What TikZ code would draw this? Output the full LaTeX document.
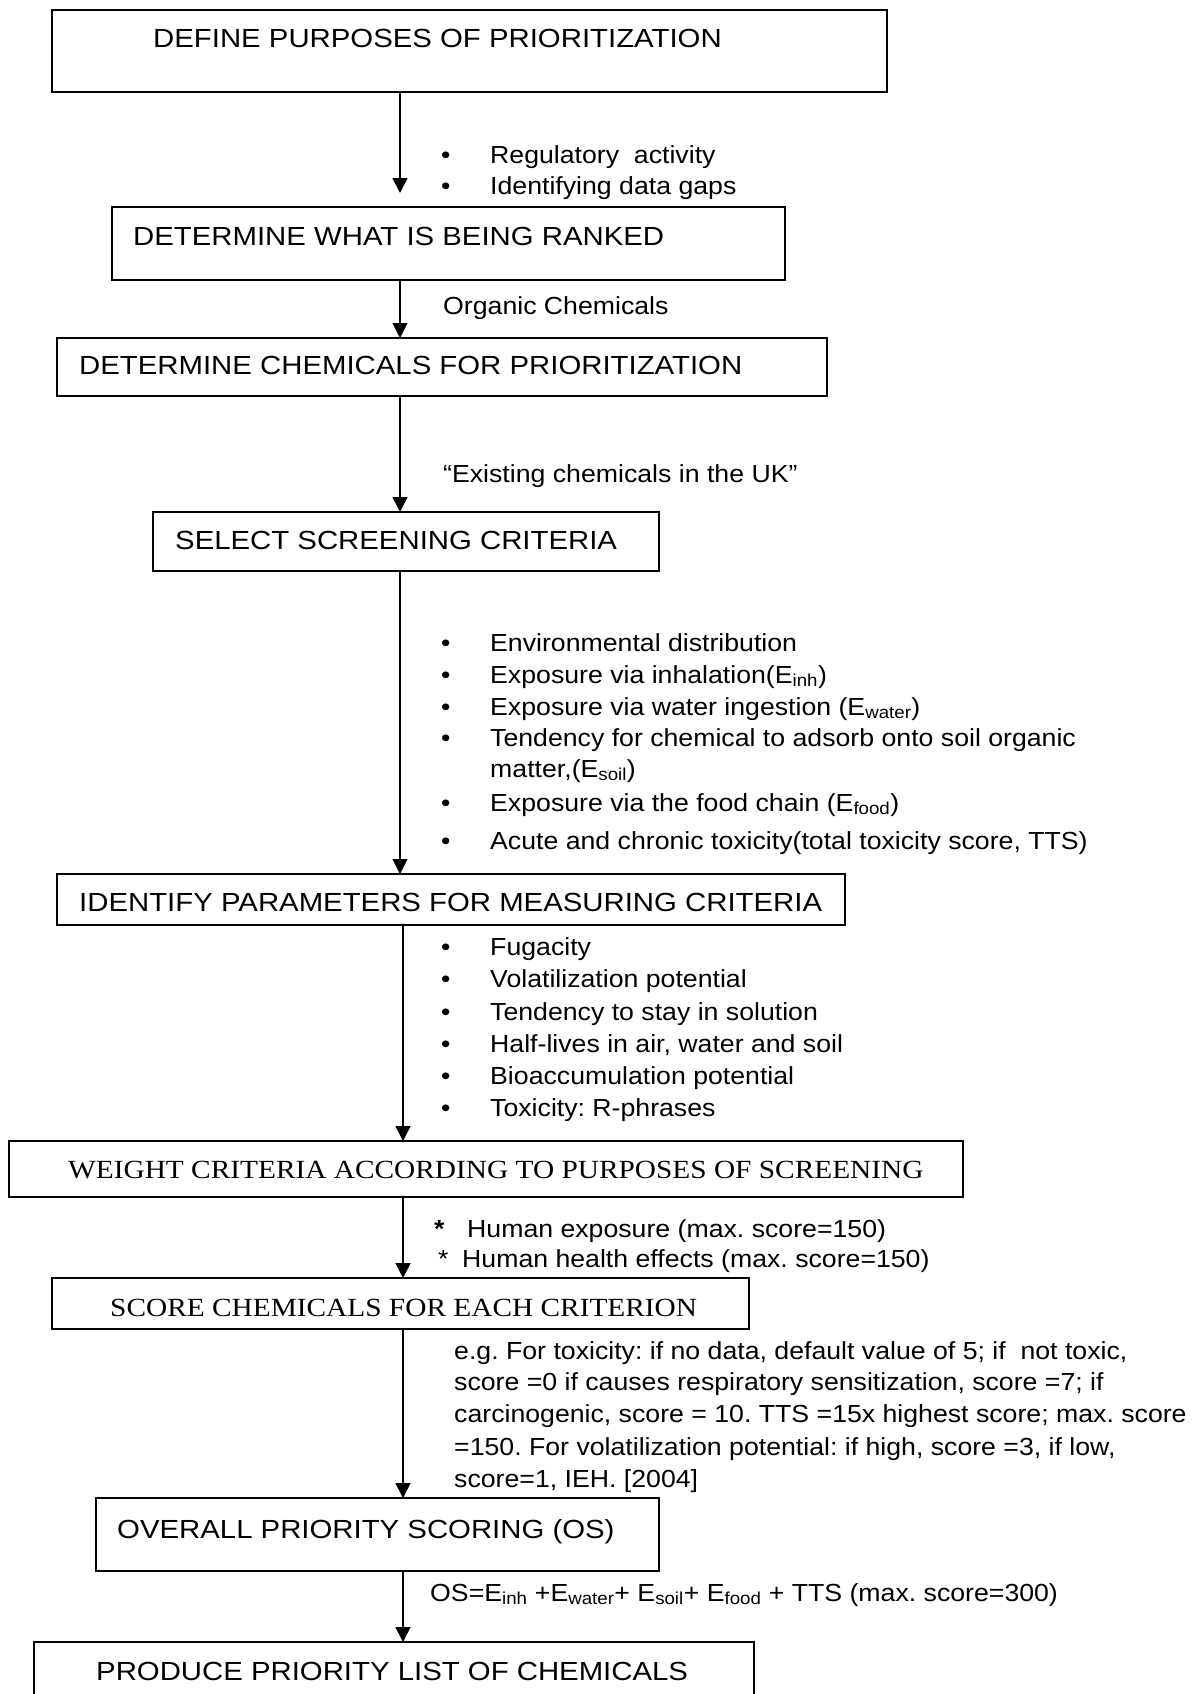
\documentclass[tikz,border=0pt]{standalone}
\usepackage{fontspec}
\setmainfont{Liberation Sans}
\newfontfamily\bodyfont[FakeStretch=1.08]{Liberation Sans}
\newfontfamily\boxsans[FakeStretch=1.12]{Liberation Sans}
\newfontfamily\boxserif[FakeStretch=1.12]{Liberation Serif}
\usetikzlibrary{arrows.meta}
\frenchspacing
\tikzset{
  box/.style={draw, line width=1.8pt, inner sep=0pt, outer sep=0pt, anchor=north west},
  boxtxt/.style={anchor=base west, inner sep=0pt, font=\boxsans\fontsize{26.2}{30}\selectfont},
  boxtxtserif/.style={anchor=base west, inner sep=0pt, font=\boxserif\fontsize{26.2}{30}\selectfont},
  txt/.style={anchor=base west, inner sep=0pt, font=\bodyfont\fontsize{24.7}{30}\selectfont},
  flow/.style={line width=1.6pt, -{Triangle[width=15pt,length=15pt]}}
}
\newcommand{\bitem}[3]{%
  \node[txt] (#1b) at (441,#2) {\textbullet};
  \node[txt] (#1) at (490,#2) {#3};}
\begin{document}
\begin{tikzpicture}[x=1pt,y=-1pt]
\useasboundingbox (0,0) rectangle (1195,1694);
\fill[white] (0,0) rectangle (1195,1694);
\coordinate (ax) at (400,0);
\coordinate (bx) at (403,0);

% boxes
\node[box, minimum width=835pt, minimum height=82pt] (b1) at (52,10) {};
\node[box, minimum width=673pt, minimum height=73pt] (b2) at (112,207) {};
\node[box, minimum width=770pt, minimum height=58pt] (b3) at (57,338) {};
\node[box, minimum width=506pt, minimum height=59pt] (b4) at (153,512) {};
\node[box, minimum width=788pt, minimum height=51pt] (b5) at (57,874) {};
\node[box, minimum width=954pt, minimum height=56pt] (b6) at (9,1141) {};
\node[box, minimum width=697pt, minimum height=51pt] (b7) at (52,1278) {};
\node[box, minimum width=563pt, minimum height=73pt] (b8) at (96,1498) {};
\node[box, minimum width=720pt, minimum height=90pt] (b9) at (34,1642) {};

% box texts
\node[boxtxt] (t1) at (153,47.5) {DEFINE PURPOSES OF PRIORITIZATION};
\node[boxtxt] (t2) at (133,245) {DETERMINE WHAT IS BEING RANKED};
\node[boxtxt] (t3) at (79,374) {DETERMINE CHEMICALS FOR PRIORITIZATION};
\node[boxtxt] (t4) at (175,549) {SELECT SCREENING CRITERIA};
\node[boxtxt] (t5) at (79,911) {IDENTIFY PARAMETERS FOR MEASURING CRITERIA};
\node[boxtxtserif] (t6) at (68,1178) {WEIGHT CRITERIA ACCORDING TO PURPOSES OF SCREENING};
\node[boxtxtserif] (t7) at (110,1316) {SCORE CHEMICALS FOR EACH CRITERION};
\node[boxtxt] (t8) at (117,1538) {OVERALL PRIORITY SCORING (OS)};
\node[boxtxt] (t9) at (96,1680) {PRODUCE PRIORITY LIST OF CHEMICALS};

% connectors
\draw[flow] (b1.south -| ax) -- ([yshift=14pt]b2.north -| ax);
\draw[flow] (b2.south -| ax) -- (b3.north -| ax);
\draw[flow] (b3.south -| ax) -- (b4.north -| ax);
\draw[flow] (b4.south -| ax) -- (b5.north -| ax);
\draw[flow] (b5.south -| bx) -- (b6.north -| bx);
\draw[flow] (b6.south -| bx) -- (b7.north -| bx);
\draw[flow] (b7.south -| bx) -- (b8.north -| bx);
\draw[flow] (b8.south -| bx) -- (b9.north -| bx);

% labels on connectors
\bitem{p1}{163}{Regulatory\ \ activity}
\bitem{p2}{194}{Identifying data gaps}
\node[txt] (r1) at (443,314) {Organic Chemicals};
\node[txt] (c1) at (443,482) {“Existing chemicals in the UK”};

\bitem{s1}{651}{Environmental distribution}
\bitem{s2}{683}{Exposure via inhalation(E\textsubscript{inh})}
\bitem{s3}{715}{Exposure via water ingestion (E\textsubscript{water})}
\bitem{s4}{746}{Tendency for chemical to adsorb onto soil organic}
\node[txt] (s4c) at (490,777) {matter,(E\textsubscript{soil})};
\bitem{s5}{811}{Exposure via the food chain (E\textsubscript{food})}
\bitem{s6}{849}{Acute and chronic toxicity(total toxicity score, TTS)}

\bitem{m1}{955}{Fugacity}
\bitem{m2}{987}{Volatilization potential}
\bitem{m3}{1020}{Tendency to stay in solution}
\bitem{m4}{1052}{Half-lives in air, water and soil}
\bitem{m5}{1084}{Bioaccumulation potential}
\bitem{m6}{1116}{Toxicity: R-phrases}

\node[txt] (w1a) at (434,1237) {\textbf{*}};
\node[txt] (w1) at (467,1237) {Human exposure (max. score=150)};
\node[txt] (w2a) at (438,1267) {*};
\node[txt] (w2) at (462,1267) {Human health effects (max. score=150)};

\node[txt] (e1) at (454,1359) {e.g. For toxicity: if no data, default value of 5; if\ \ not toxic,};
\node[txt] (e2) at (454,1390) {score =0 if causes respiratory sensitization, score =7; if};
\node[txt] (e3) at (454,1422) {carcinogenic, score = 10. TTS =15x highest score; max. score};
\node[txt] (e4) at (454,1455) {=150. For volatilization potential: if high, score =3, if low,};
\node[txt] (e5) at (454,1487) {score=1, IEH. [2004]};

\node[txt] (os) at (430,1601) {OS=E\textsubscript{inh} +E\textsubscript{water}+ E\textsubscript{soil}+ E\textsubscript{food} + TTS (max. score=300)};
\end{tikzpicture}
\end{document}
